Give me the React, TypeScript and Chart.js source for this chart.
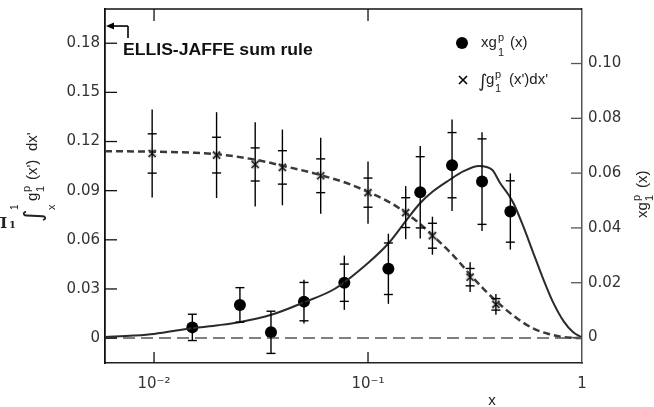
import React, { useEffect, useRef } from 'react';
import { Chart, registerables } from 'chart.js';

Chart.register(...registerables);

// ---- axis ranges & ticks ----
const X_MIN = 0.0059;
const X_MAX = 1;
const Y_LEFT_MIN = -0.0152;
const Y_LEFT_MAX = 0.2009;
const Y_RIGHT_MIN = -0.0093;
const Y_RIGHT_MAX = 0.1199;

const xTickValues = [0.01, 0.1, 1];
const xTickLabels = ['10⁻²', '10⁻¹', '1'];
const leftTickValues = [0, 0.03, 0.06, 0.09, 0.12, 0.15, 0.18];
const leftTickLabels = ['0', '0.03', '0.06', '0.09', '0.12', '0.15', '0.18'];
const rightTickValues = [0, 0.02, 0.04, 0.06, 0.08, 0.1];
const rightTickLabels = ['0', '0.02', '0.04', '0.06', '0.08', '0.10'];

// ---- integral  ∫ g1p dx'  (left axis), crosses ----
const crossX = [0.0098, 0.0196, 0.0297, 0.0398, 0.0601, 0.1, 0.15, 0.2, 0.3, 0.396];
const crossY = [0.1127, 0.1117, 0.106, 0.1042, 0.0991, 0.0888, 0.0766, 0.0625, 0.0372, 0.0206];
const crossStat = [0.012, 0.0109, 0.0101, 0.0102, 0.0103, 0.0089, 0.0091, 0.0076, 0.0053, 0.0035];
const crossTot = [0.0268, 0.0262, 0.0257, 0.0231, 0.0232, 0.019, 0.0162, 0.0116, 0.0091, 0.0063];

// ---- x g1p (right axis), dots ----
const dotX = [0.0151, 0.0252, 0.0352, 0.0502, 0.0775, 0.1245, 0.1754, 0.247, 0.341, 0.4625];
const dotY = [0.0037, 0.0119, 0.0019, 0.0131, 0.02, 0.0251, 0.053, 0.0629, 0.0569, 0.046];
const dotStat = [0.0048, 0.0063, 0.0077, 0.007, 0.0068, 0.0094, 0.013, 0.0119, 0.0156, 0.0112];
const dotTot = [0.0048, 0.0063, 0.0077, 0.008, 0.0099, 0.0128, 0.0169, 0.0167, 0.018, 0.0139];

// ---- fit curve x g1p (right axis, solid) ----
const fitX = [0.0059, 0.008, 0.01, 0.015, 0.02, 0.025, 0.035, 0.05, 0.07, 0.1, 0.125, 0.15, 0.175, 0.2, 0.24, 0.28, 0.33, 0.38, 0.415, 0.45, 0.48, 0.53, 0.59, 0.66, 0.73, 0.82, 0.91, 1.0];
const fitY = [0.0002, 0.0007, 0.0013, 0.0034, 0.0045, 0.0056, 0.0082, 0.0128, 0.0178, 0.0272, 0.0345, 0.0425, 0.049, 0.0532, 0.0575, 0.0607, 0.0626, 0.0612, 0.0563, 0.0525, 0.0488, 0.0408, 0.0312, 0.0212, 0.0131, 0.006, 0.0019, 0.0];

// ---- integral curve (left axis, dashed) ----
const intX = [0.0059, 0.01, 0.015, 0.02, 0.03, 0.04, 0.06, 0.08, 0.1, 0.125, 0.15, 0.175, 0.2, 0.25, 0.3, 0.35, 0.4, 0.5, 0.6, 0.7, 0.8, 0.9, 1.0];
const intY = [0.1141, 0.1138, 0.1132, 0.1122, 0.1088, 0.1052, 0.0995, 0.0945, 0.0893, 0.0832, 0.0765, 0.0697, 0.0628, 0.0505, 0.0388, 0.0295, 0.0222, 0.0118, 0.0055, 0.0025, 0.0008, 0.0002, 0.0];

const baseX = [X_MIN, X_MAX];
const baseY = [0, 0];

const ellisJaffeValue = 0.1905;

const TICK_FONT = { family: 'DejaVu Sans', size: 15 };
const TEXT_FAMILY = '"Liberation Sans", Arial, sans-serif';

type Seg = { t: string; x: number; dy?: number; size: number; weight?: string; family?: string };

function drawRich(ctx: CanvasRenderingContext2D, ox: number, oy: number, rot: number, segs: Seg[]) {
  ctx.save();
  ctx.translate(ox, oy);
  ctx.rotate(rot);
  ctx.fillStyle = '#222';
  ctx.textBaseline = 'alphabetic';
  ctx.textAlign = 'left';
  for (const s of segs) {
    ctx.font = `${s.weight || 'normal'} ${s.size}px ${s.family || TEXT_FAMILY}`;
    ctx.fillText(s.t, s.x, s.dy || 0);
  }
  ctx.restore();
}

function line(ctx: CanvasRenderingContext2D, x1: number, y1: number, x2: number, y2: number) {
  ctx.beginPath();
  ctx.moveTo(x1, y1);
  ctx.lineTo(x2, y2);
  ctx.stroke();
}

function drawErrors(ctx: CanvasRenderingContext2D, xs: any, ys: any, X: number[], Y: number[], stat: number[], tot: number[]) {
  ctx.save();
  ctx.strokeStyle = '#000';
  ctx.lineWidth = 1.4;
  for (let i = 0; i < X.length; i++) {
    const px = xs.getPixelForValue(X[i]);
    const t1 = ys.getPixelForValue(Y[i] + tot[i]);
    const t2 = ys.getPixelForValue(Y[i] - tot[i]);
    line(ctx, px, t1, px, t2);
    const s1 = ys.getPixelForValue(Y[i] + stat[i]);
    const s2 = ys.getPixelForValue(Y[i] - stat[i]);
    line(ctx, px - 4.5, s1, px + 4.5, s1);
    line(ctx, px - 4.5, s2, px + 4.5, s2);
  }
  ctx.restore();
}

const decor = {
  id: 'decor',
  afterDatasetsDraw(chart: any) {
    const ctx = chart.ctx as CanvasRenderingContext2D;
    drawErrors(ctx, chart.scales.x, chart.scales.yL, crossX, crossY, crossStat, crossTot);
    drawErrors(ctx, chart.scales.x, chart.scales.yR, dotX, dotY, dotStat, dotTot);
  },
  afterDraw(chart: any) {
    const ctx = chart.ctx as CanvasRenderingContext2D;
    const { left, right, top, bottom } = chart.chartArea;
    const xS = chart.scales.x;
    const yL = chart.scales.yL;
    const yR = chart.scales.yR;
    ctx.save();
    // top frame
    ctx.strokeStyle = '#111';
    ctx.lineWidth = 1.5;
    line(ctx, left, top, right, top);
    // inward ticks
    ctx.lineWidth = 1.3;
    for (const v of leftTickValues) {
      const y = yL.getPixelForValue(v);
      line(ctx, left, y, left + 12, y);
    }
    for (const v of xTickValues) {
      if (v >= X_MAX) continue;
      const x = xS.getPixelForValue(v);
      line(ctx, x, bottom, x, bottom - 11);
      line(ctx, x, top, x, top + 12);
    }
    ctx.strokeStyle = '#555';
    for (const v of rightTickValues) {
      const y = yR.getPixelForValue(v);
      line(ctx, right - 11, y, right, y);
    }
    // Ellis-Jaffe arrow
    const ey = yL.getPixelForValue(ellisJaffeValue);
    ctx.strokeStyle = '#000';
    ctx.fillStyle = '#000';
    ctx.lineWidth = 1.6;
    line(ctx, left + 7, ey, left + 23, ey);
    line(ctx, left + 23, ey, left + 23, ey + 12);
    ctx.beginPath();
    ctx.moveTo(left + 1, ey);
    ctx.lineTo(left + 9, ey - 3.5);
    ctx.lineTo(left + 9, ey + 3.5);
    ctx.closePath();
    ctx.fill();
    ctx.restore();

    // annotation
    ctx.save();
    ctx.translate(123, 55);
    ctx.scale(1.1, 1);
    ctx.fillStyle = '#111';
    ctx.font = `bold 16px ${TEXT_FAMILY}`;
    ctx.fillText('ELLIS-JAFFE sum rule', 0, 0);
    ctx.restore();

    // legend
    ctx.save();
    ctx.fillStyle = '#000';
    ctx.beginPath();
    ctx.arc(462, 43, 6, 0, Math.PI * 2);
    ctx.fill();
    ctx.strokeStyle = '#000';
    ctx.lineWidth = 1.6;
    line(ctx, 459, 76, 467, 84);
    line(ctx, 459, 84, 467, 76);
    ctx.restore();
    drawRich(ctx, 481, 47, 0, [
      { t: 'xg', x: 0, size: 15 },
      { t: 'p', x: 17, dy: -6, size: 11 },
      { t: '1', x: 17, dy: 9, size: 11 },
      { t: '(x)', x: 29, size: 15 },
    ]);
    drawRich(ctx, 478, 84, 0, [
      { t: '∫', x: 0, dy: 3, size: 18, family: 'DejaVu Sans' },
      { t: 'g', x: 8, size: 15 },
      { t: 'p', x: 17, dy: -6, size: 11 },
      { t: '1', x: 17, dy: 8, size: 11 },
      { t: "(x')dx'", x: 31, size: 15 },
    ]);

    // left axis title (rotated)
    drawRich(ctx, 37, 222, -Math.PI / 2, [
      { t: '∫', x: 0, dy: 4, size: 24, family: 'DejaVu Sans' },
      { t: '1', x: 12, dy: -19, size: 10 },
      { t: 'x', x: 12, dy: 18, size: 11 },
      { t: 'g', x: 21, size: 15 },
      { t: 'p', x: 30, dy: -7, size: 11 },
      { t: '1', x: 30, dy: 7, size: 11 },
      { t: "(x')", x: 42, size: 15 },
      { t: "dx'", x: 71, size: 15 },
    ]);

    // right axis title (rotated)
    drawRich(ctx, 647, 218, -Math.PI / 2, [
      { t: 'xg', x: 0, size: 15 },
      { t: 'p', x: 17, dy: -7, size: 11 },
      { t: '1', x: 17, dy: 6, size: 11 },
      { t: '(x)', x: 30, size: 15 },
    ]);

    // x axis title
    ctx.save();
    ctx.fillStyle = '#222';
    ctx.font = `15px ${TEXT_FAMILY}`;
    ctx.textAlign = 'center';
    ctx.textBaseline = 'middle';
    ctx.fillText('x', 492, 401);
    ctx.restore();

    // cropped glyph at far left
    drawRich(ctx, -7, 228, 0, [
      { t: 'Π', x: 0, size: 15, weight: 'bold', family: '"DejaVu Serif", serif' },
      { t: '1', x: 16, dy: 0, size: 10, weight: 'bold', family: '"DejaVu Serif", serif' },
    ]);
  },
};

const pts = (xs: number[], ys: number[]) => xs.map((x, i) => ({ x, y: ys[i] }));

const noPad = (s: any) => {
  s.paddingTop = 0;
  s.paddingBottom = 0;
  s.paddingLeft = 0;
  s.paddingRight = 0;
};

export default function App() {
  const ref = useRef<HTMLCanvasElement | null>(null);
  useEffect(() => {
    if (!ref.current) return;
    const chart = new Chart(ref.current, {
      type: 'line',
      data: {
        datasets: [
          {
            data: pts(baseX, baseY), yAxisID: 'yL', borderColor: '#555', borderWidth: 1.5,
            borderDash: [12, 6], pointRadius: 0, fill: false,
          },
          {
            data: pts(intX, intY), yAxisID: 'yL', borderColor: '#3a3a3a', borderWidth: 2.5,
            borderDash: [7, 4], pointRadius: 0, cubicInterpolationMode: 'monotone', fill: false,
          },
          {
            data: pts(fitX, fitY), yAxisID: 'yR', borderColor: '#2a2a2a', borderWidth: 2,
            pointRadius: 0, cubicInterpolationMode: 'monotone', fill: false,
          },
          {
            data: pts(crossX, crossY), yAxisID: 'yL', showLine: false, pointStyle: 'crossRot',
            pointRadius: 5, borderColor: 'rgba(130,130,130,0.35)', borderWidth: 4,
          },
          {
            data: pts(crossX, crossY), yAxisID: 'yL', showLine: false, pointStyle: 'crossRot',
            pointRadius: 5, borderColor: '#000', borderWidth: 1.6,
          },
          {
            data: pts(dotX, dotY), yAxisID: 'yR', showLine: false, pointStyle: 'circle',
            pointRadius: 6, backgroundColor: '#000', borderColor: '#000', borderWidth: 0,
          },
        ],
      } as any,
      options: {
        responsive: false,
        animation: false,
        devicePixelRatio: 1,
        layout: { padding: { top: 8, left: 0, right: 0, bottom: 0 } },
        plugins: { legend: { display: false }, tooltip: { enabled: false } },
        scales: {
          x: {
            type: 'logarithmic', position: 'bottom', min: X_MIN, max: X_MAX,
            afterBuildTicks: (s: any) => { s.ticks = xTickValues.map((v) => ({ value: v })); },
            ticks: {
              callback: (v: any) => xTickLabels[xTickValues.indexOf(v)] ?? '',
              font: TICK_FONT, color: '#333', padding: 12, maxRotation: 0, autoSkip: false,
            },
            grid: { display: false, drawTicks: false },
            border: { display: true, color: '#222', width: 1.5 },
            afterFit: (s: any) => { s.height = 44; noPad(s); },
          },
          yL: {
            type: 'linear', position: 'left', min: Y_LEFT_MIN, max: Y_LEFT_MAX,
            afterBuildTicks: (s: any) => { s.ticks = leftTickValues.map((v) => ({ value: v })); },
            ticks: {
              callback: (v: any) => leftTickLabels[leftTickValues.indexOf(v)] ?? '',
              font: TICK_FONT, color: '#333', padding: 5, autoSkip: false,
            },
            grid: { display: false, drawTicks: false },
            border: { display: true, color: '#111', width: 1.8 },
            afterFit: (s: any) => { s.width = 105; noPad(s); },
          },
          yR: {
            type: 'linear', position: 'right', min: Y_RIGHT_MIN, max: Y_RIGHT_MAX,
            afterBuildTicks: (s: any) => { s.ticks = rightTickValues.map((v) => ({ value: v })); },
            ticks: {
              callback: (v: any) => rightTickLabels[rightTickValues.indexOf(v)] ?? '',
              font: TICK_FONT, color: '#333', padding: 6, autoSkip: false,
            },
            grid: { display: false, drawTicks: false },
            border: { display: true, color: '#555', width: 1.5 },
            afterFit: (s: any) => { s.width = 72; noPad(s); },
          },
        },
      } as any,
      plugins: [decor],
    });
    return () => chart.destroy();
  }, []);
  return (
    <div style={{ position: 'fixed', left: 0, top: 0, width: 654, height: 407, background: '#fff' }}>
      <canvas ref={ref} width={654} height={407} style={{ display: 'block' }} />
    </div>
  );
}
